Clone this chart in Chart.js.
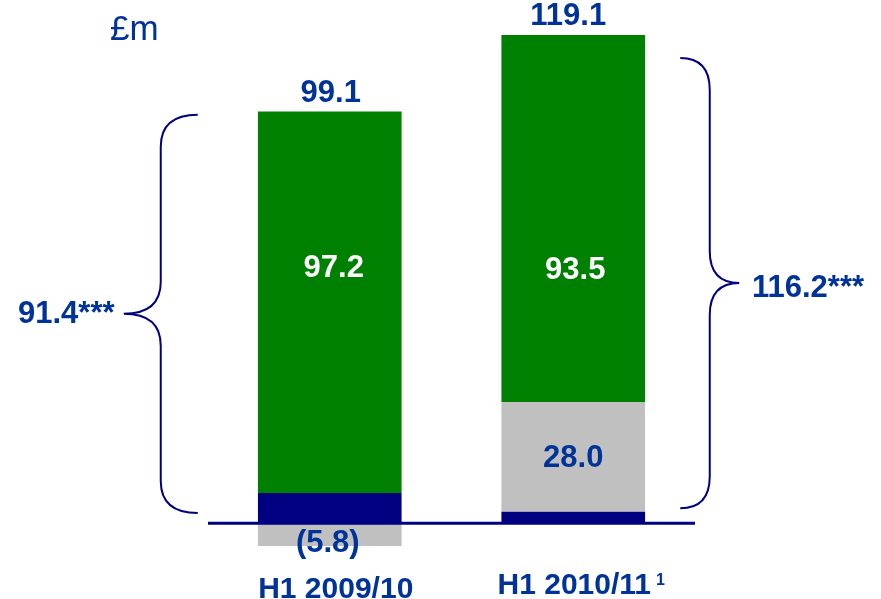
<!DOCTYPE html>
<html>
<head>
<meta charset="utf-8">
<script src="https://cdn.jsdelivr.net/npm/chart.js@4.4.0/dist/chart.umd.min.js"></script>
<style>
  html, body { margin: 0; padding: 0; background: #fff; }
  canvas { display: block; }
</style>
</head>
<body>
<canvas id="grafico" width="881" height="599"></canvas>
<script>
// dados (em £m)
const categorias = ['H1 2009/10', 'H1 2010/11'];
const notas = ['', '1'];
const azul = [7.7, 2.9];
const cinza = [-5.8, 28.0];
const verde = [97.2, 93.5];
const totais = ['99.1', '119.1'];
const rotulosVerde = ['97.2', '93.5'];
const rotulosCinza = ['(5.8)', '28.0'];
const chaves = ['91.4***', '116.2***'];
// faixa de cada chave, em valores do eixo
const chavesFaixa = [[2.6, 104.1], [3.8, 118.6]];

const corTexto = '#003399';
const corLinha = '#000080';
const fonte = '"Liberation Sans", Arial, sans-serif';

function chave(c, x, yTop, yBot, dir, larg) {
    // dir = -1 aponta para a esquerda, 1 para a direita
    const yMeio = (yTop + yBot) / 2;
    const xv = x + dir * larg * 0.5;
    const xp = x + dir * larg;
    const r = 32;
    c.beginPath();
    c.moveTo(x, yTop);
    c.quadraticCurveTo(xv, yTop, xv, yTop + r);
    c.lineTo(xv, yMeio - r);
    c.quadraticCurveTo(xv, yMeio, xp, yMeio);
    c.quadraticCurveTo(xv, yMeio, xv, yMeio + r);
    c.lineTo(xv, yBot - r);
    c.quadraticCurveTo(xv, yBot, x, yBot);
    c.stroke();
}

const anotacoes = {
    id: 'anotacoes',
    afterDatasetsDraw(chart) {
        const c = chart.ctx;
        const area = chart.chartArea;
        const y = chart.scales.y;
        const barras = chart.getDatasetMeta(2).data;
        const zero = y.getPixelForValue(0);

        c.save();
        // linha de base
        c.strokeStyle = corLinha;
        c.lineWidth = 3;
        c.beginPath();
        c.moveTo(area.left, zero);
        c.lineTo(area.right, zero);
        c.stroke();

        // chaves
        c.lineWidth = 2;
        const b0 = barras[0].x, b1 = barras[1].x;
        chave(c, b0 - 132, y.getPixelForValue(chavesFaixa[0][1]), y.getPixelForValue(chavesFaixa[0][0]), -1, 74);
        chave(c, b1 + 107, y.getPixelForValue(chavesFaixa[1][1]), y.getPixelForValue(chavesFaixa[1][0]), 1, 59);

        c.font = 'bold 31px ' + fonte;
        c.fillStyle = corTexto;
        c.textBaseline = 'alphabetic';
        c.textAlign = 'left';
        c.fillText(chaves[0], 18, 323);
        c.fillText(chaves[1], 752, 297);

        c.textAlign = 'center';
        // totais logo acima de cada barra
        c.fillText(totais[0], b0 + 1, barras[0].y - 10);
        c.fillText(totais[1], b1 - 5, barras[1].y - 10);
        c.fillText(rotulosCinza[1], b1, 467);
        c.fillText(rotulosCinza[0], b0 - 2, 552);
        c.fillStyle = '#ffffff';
        c.fillText(rotulosVerde[0], b0 + 4, 277);
        c.fillText(rotulosVerde[1], b1 + 2, 279);

        // categorias
        c.fillStyle = corTexto;
        c.font = 'bold 30px ' + fonte;
        c.fillText(categorias[0], b0 + 6, 598);
        c.fillText(categorias[1], b1 + 1, 594);
        c.font = 'bold 16px ' + fonte;
        c.textAlign = 'left';
        c.fillText(notas[1], 656, 585);

        c.font = '35px ' + fonte;
        c.fillText('£m', 110, 40);
        c.restore();
    }
};

new Chart(document.getElementById('grafico'), {
    type: 'bar',
    data: {
        labels: categorias,
        datasets: [
            { label: 'azul', data: azul, backgroundColor: '#000080' },
            { label: 'cinza', data: cinza, backgroundColor: '#c0c0c0' },
            { label: 'verde', data: verde, backgroundColor: '#008000' }
        ]
    },
    options: {
        responsive: false,
        animation: false,
        layout: { padding: { left: 208, right: 186, top: 21, bottom: 17 } },
        datasets: { bar: { categoryPercentage: 1, barPercentage: 0.59, borderWidth: 0 } },
        scales: {
            x: { stacked: true, display: false },
            y: { stacked: true, display: false, min: -15, max: 128 }
        },
        plugins: {
            legend: { display: false },
            tooltip: { enabled: false },
            title: { display: false }
        }
    },
    plugins: [anotacoes]
});
</script>
</body>
</html>
